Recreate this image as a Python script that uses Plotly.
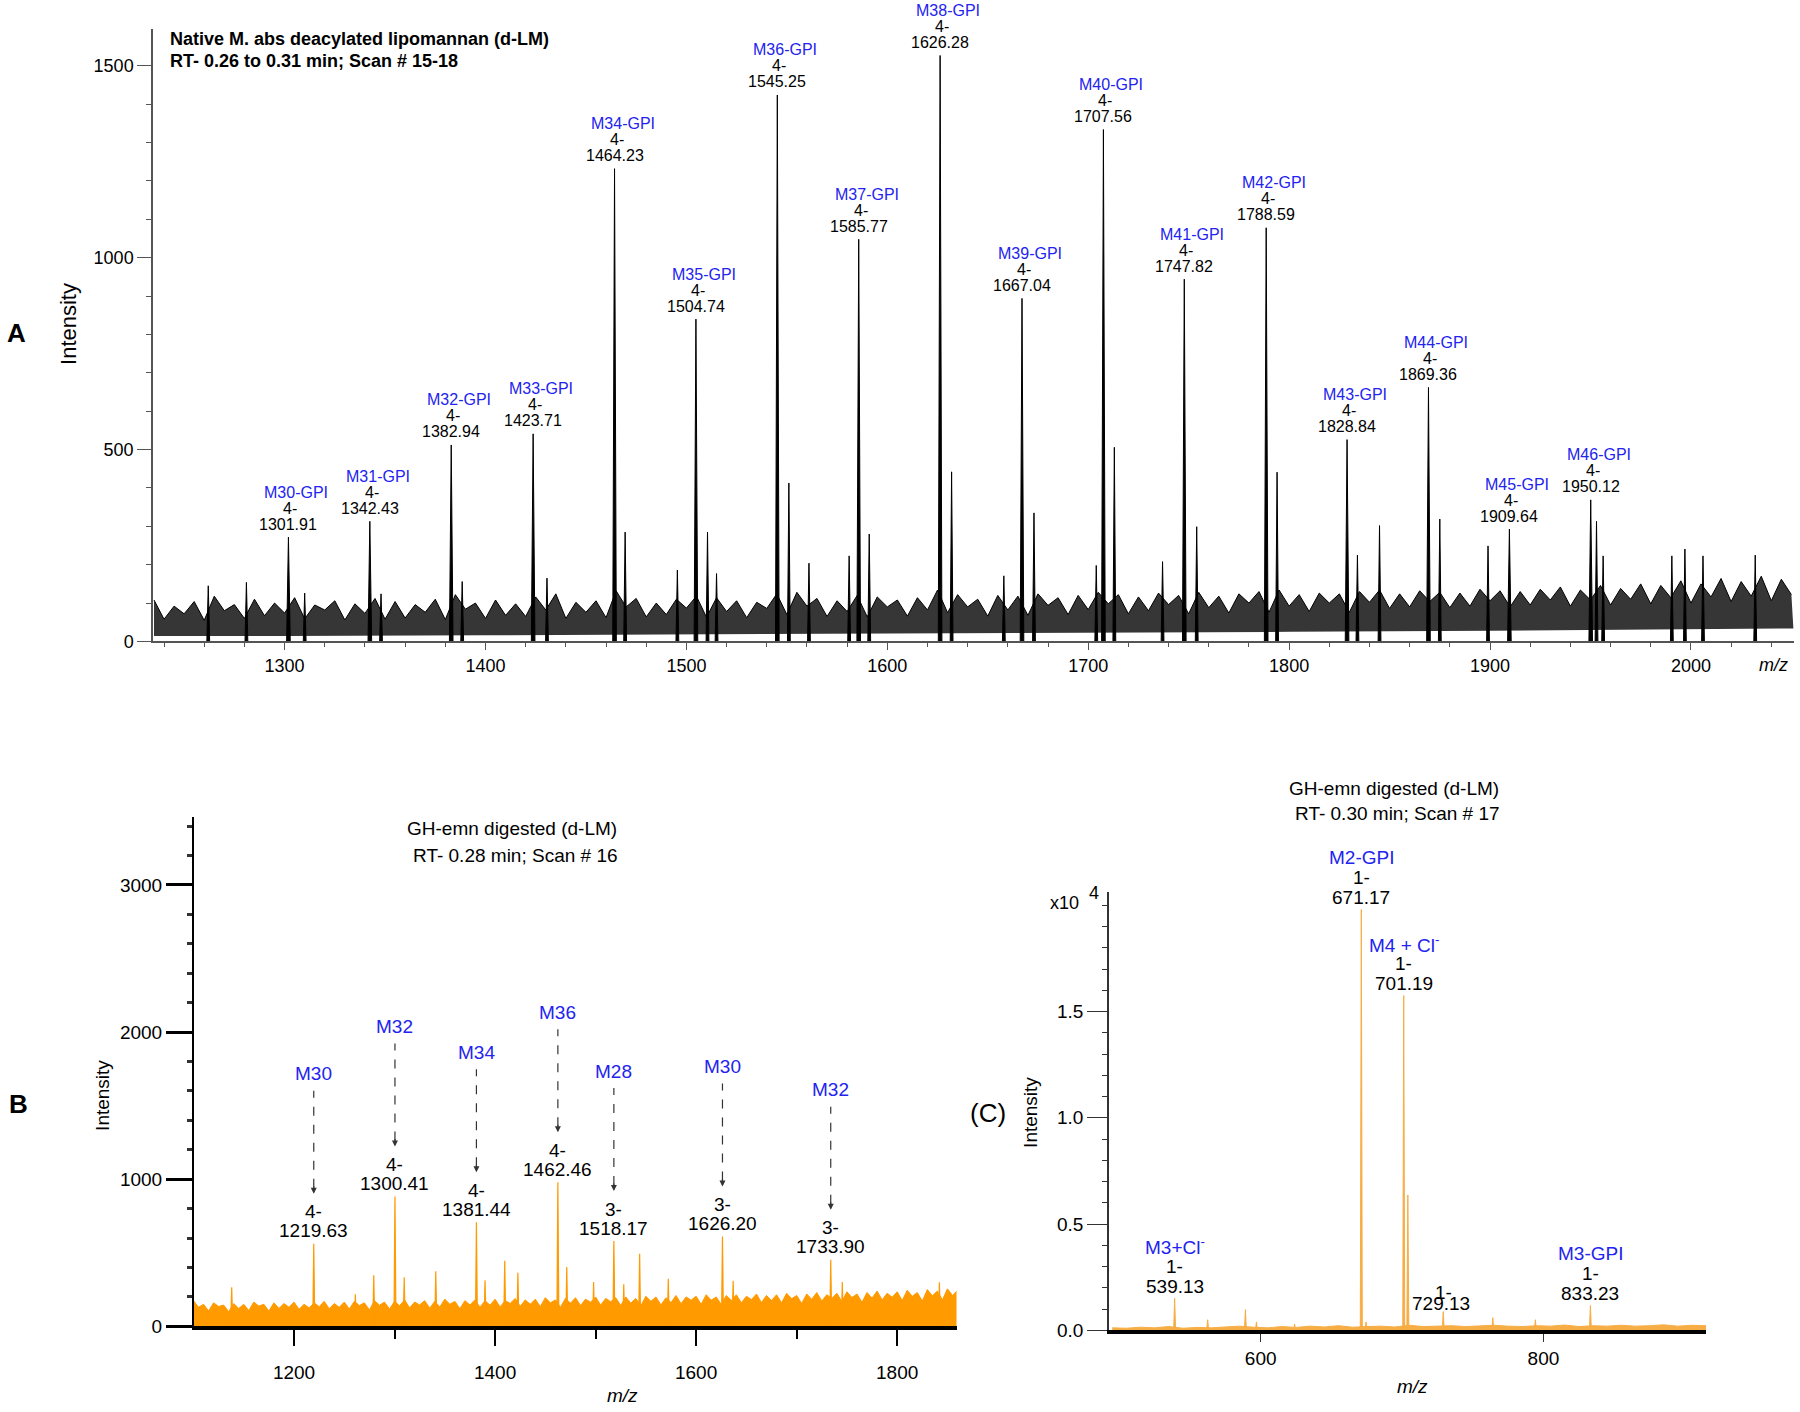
import plotly.graph_objects as go

W, H = 1800, 1412
# the captured page comes out slightly taller than the figure; compensate vertically
KY = 0.9923

# ---------------- Panel A data ----------------
a_mz = [1301.91, 1342.43, 1382.94, 1423.71, 1464.23, 1504.74, 1545.25, 1585.77, 1626.28,
        1667.04, 1707.56, 1747.82, 1788.59, 1828.84, 1869.36, 1909.64, 1950.12]
a_int = [272, 313, 512, 541, 1232, 840, 1424, 1048, 1527, 894, 1334, 944, 1078, 526, 662, 293, 369]
a_names = ["M30-GPI", "M31-GPI", "M32-GPI", "M33-GPI", "M34-GPI", "M35-GPI", "M36-GPI", "M37-GPI",
           "M38-GPI", "M39-GPI", "M40-GPI", "M41-GPI", "M42-GPI", "M43-GPI", "M44-GPI", "M45-GPI", "M46-GPI"]
a_charge = ["4-"] * 17
a_minor_mz = [1262, 1281, 1310, 1348, 1388.4, 1430.6, 1469.5, 1495.5, 1510.5, 1515, 1551, 1561, 1581,
              1591, 1632, 1658, 1673, 1704, 1713, 1737, 1754, 1794, 1834, 1845, 1875, 1899, 1953,
              1956.3, 1990.5, 1997, 2006, 2032]
a_minor_int = [145, 154, 126, 124, 156, 165, 285, 186, 285, 177, 413, 204, 223, 280, 442, 171, 335,
               198, 506, 208, 299, 441, 225, 302, 319, 249, 313, 223, 223, 241, 223, 225]
a_noise_mz = list(range(1235, 2050, 10))
a_noise_hi = [108, 92, 104, 118, 96, 110, 100, 114, 95, 106,
              98, 112, 104, 96, 110, 122, 100, 108, 98, 116,
              124, 102, 106, 132, 112, 100, 110, 118, 114, 106,
              102, 124, 128, 112, 106, 120, 116, 108, 114, 134,
              122, 110, 120, 118, 124, 114, 120, 128, 122, 116,
              126, 120, 128, 118, 124, 130, 134, 122, 126, 124,
              130, 134, 124, 132, 128, 126, 136, 132, 130, 136,
              142, 134, 146, 138, 150, 146, 158, 150, 164, 156,
              170, 162]
a_noise_valley = [58, 72, 55, 80, 60, 67, 74, 59, 82, 56,
                  73, 58, 61, 76, 57, 84, 60, 68, 65, 82,
                  60, 76, 62, 90, 64, 70, 87, 63, 78, 62,
                  86, 70, 92, 65, 78, 64, 90, 66, 82, 75,
                  90, 66, 82, 68, 94, 70, 83, 98, 72, 80,
                  96, 72, 88, 74, 100, 76, 92, 78, 100, 76,
                  102, 86, 90, 104, 88, 92, 106, 90, 95, 108,
                  92, 108, 95, 110, 98, 114, 100, 116, 104, 118,
                  106, 122]
a_noise_lo_mz = [1235, 1300, 1400, 1500, 1600, 1700, 1800, 1900, 2000, 2051]
a_noise_lo = [14, 14, 16, 18, 20, 22, 25, 28, 32, 34]

# ---------------- Panel B data ----------------
b_mz = [1219.63, 1300.41, 1381.44, 1462.46, 1518.17, 1626.20, 1733.90]
b_int = [561, 882, 707, 980, 580, 611, 452]
b_names = ["M30", "M32", "M34", "M36", "M28", "M30", "M32"]
b_charge = ["4-", "4-", "4-", "4-", "3-", "3-", "3-"]
b_minor_mz = [1138, 1261, 1279.3, 1309.6, 1341, 1390, 1409.6, 1422.7, 1471.3, 1498, 1528, 1543.8,
              1572.3, 1636.8, 1745.4, 1842]
b_minor_int = [265, 219, 347, 333, 374, 313, 446, 364, 403, 301, 287, 493, 323, 310, 301, 300]
b_noise_mz = list(range(1100, 1861, 10))
b_noise = [175, 150, 160, 145, 155, 150, 165, 150, 160, 155,
           165, 150, 160, 170, 155, 165, 170, 160, 175, 165,
           170, 180, 165, 175, 170, 185, 170, 175, 180, 175,
           185, 175, 190, 180, 185, 195, 180, 190, 195, 185,
           200, 190, 195, 200, 190, 205, 200, 195, 210, 200,
           205, 215, 200, 210, 215, 205, 220, 210, 215, 225,
           210, 220, 230, 215, 225, 235, 220, 230, 240, 225,
           235, 245, 230, 250, 240, 255, 245]
b_noise_valley = [130, 105, 135, 100, 122, 108, 138, 104, 122, 130,
                  116, 126, 134, 120, 130, 118, 142, 112, 144, 118,
                  140, 126, 146, 124, 132, 150, 120, 146, 130, 144,
                  132, 156, 136, 150, 134, 160, 130, 158, 142, 164,
                  144, 168, 142, 158, 140, 170, 146, 162, 154, 178,
                  150, 178, 148, 176, 160, 182, 162, 176, 160, 188,
                  156, 184, 172, 190, 168, 196, 164, 192, 180, 198,
                  176, 204, 172, 208, 180, 210, 184]

# ---------------- Panel C data (x10^4) ----------------
c_mz = [539.13, 671.17, 701.19, 729.13, 833.23]
c_int = [0.151, 1.98, 1.575, 0.088, 0.117]
c_names = ["M3+Cl<sup>-</sup>", "M2-GPI", "M4 + Cl<sup>-</sup>", "", "M3-GPI"]
c_charge = ["1-", "1-", "1-", "1-", "1-"]
c_minor_mz = [562.5, 589.2, 597, 624, 674.5, 704.1, 764.2, 794.3]
c_minor_int = [0.05, 0.098, 0.04, 0.03, 0.04, 0.637, 0.06, 0.05]
c_noise_mz = list(range(495, 916, 10))
c_noise = [0.012, 0.01, 0.015, 0.012, 0.018, 0.01, 0.014, 0.012, 0.016, 0.02,
           0.015, 0.012, 0.018, 0.014, 0.02, 0.016, 0.022, 0.015, 0.018, 0.02,
           0.016, 0.024, 0.018, 0.02, 0.022, 0.018, 0.02, 0.024, 0.02, 0.018,
           0.022, 0.02, 0.025, 0.018, 0.022, 0.02, 0.024, 0.02, 0.022, 0.026,
           0.02, 0.024, 0.022]
c_yticks = [0, 0.5, 1.0, 1.5]

BLUE = "#2323f0"
ORANGE = "#ff9a00"
LORANGE = "#f7ad45"
FONT = "Liberation Sans, Arial, sans-serif"


def px(x):
    return min(1.0, max(0.0, x / W))


def py(y):
    return min(1.0, max(0.0, 1 - (y / KY) / H))


def sticks(mzs, ints, hw):
    xs, ys = [], []
    for m, v in zip(mzs, ints):
        xs += [m - hw, m, m + hw, None]
        ys += [0, v, 0, None]
    return xs, ys


def zigzag(mzs, his, valleys, half):
    xs, ys = [], []
    for m, h, v in zip(mzs, his, valleys):
        xs += [m, m + half]
        ys += [h, v]
    return xs, ys


fig = go.Figure()

# ---- Panel A traces
fig.add_trace(go.Scatter(x=a_noise_lo_mz, y=a_noise_lo, mode="lines", line=dict(width=0, color="#333"),
                         xaxis="x", yaxis="y", hoverinfo="skip"))
zx, zy = zigzag(a_noise_mz, a_noise_hi, a_noise_valley, 5)
fig.add_trace(go.Scatter(x=zx, y=zy, mode="lines", fill="tonexty",
                         fillcolor="#363636", line=dict(width=1, color="black"),
                         xaxis="x", yaxis="y", hoverinfo="skip"))
xs, ys = sticks(a_minor_mz, a_minor_int, 0.7)
fig.add_trace(go.Scatter(x=xs, y=ys, mode="lines", fill="toself", fillcolor="black",
                         line=dict(width=1, color="black"), xaxis="x", yaxis="y"))
xs, ys = sticks(a_mz, a_int, 0.9)
fig.add_trace(go.Scatter(x=xs, y=ys, mode="lines", fill="toself", fillcolor="black",
                         line=dict(width=1, color="black"), xaxis="x", yaxis="y"))

# ---- Panel B traces
zx, zy = zigzag(b_noise_mz, b_noise, b_noise_valley, 5)
fig.add_trace(go.Scatter(x=zx, y=zy, mode="lines", fill="tozeroy", fillcolor=ORANGE,
                         line=dict(width=1, color=ORANGE), xaxis="x2", yaxis="y2"))
xs, ys = sticks(b_minor_mz + b_mz, b_minor_int + b_int, 1.0)
fig.add_trace(go.Scatter(x=xs, y=ys, mode="lines", fill="toself", fillcolor=ORANGE,
                         line=dict(width=1.2, color=ORANGE), xaxis="x2", yaxis="y2"))

# ---- Panel C traces
fig.add_trace(go.Scatter(x=c_noise_mz, y=c_noise, mode="lines", fill="tozeroy", fillcolor=LORANGE,
                         line=dict(width=1, color=LORANGE), xaxis="x3", yaxis="y3"))
xs, ys = sticks(c_minor_mz + c_mz, c_minor_int + c_int, 0.7)
fig.add_trace(go.Scatter(x=xs, y=ys, mode="lines", fill="toself", fillcolor=LORANGE,
                         line=dict(width=1, color=LORANGE), xaxis="x3", yaxis="y3"))

ann = []
shapes = []


def paper_text(x, y, text, size, anchor="center", angle=0):
    return dict(x=px(x), y=py(y), xref="paper", yref="paper", xanchor=anchor, yanchor="middle",
                showarrow=False, text=text, textangle=angle,
                font=dict(size=size, family=FONT, color="black"))


def data_text(x, y, xr, yr, text, size, color, yshift, xshift=0):
    return dict(x=x, y=y, xref=xr, yref=yr, text=text, showarrow=False, xanchor="center",
                yanchor="middle", yshift=yshift, xshift=xshift,
                font=dict(color=color, size=size, family=FONT))


# Panel A annotations
for m, v, nm, ch in zip(a_mz, a_int, a_names, a_charge):
    ann.append(data_text(m, v, "x", "y", nm, 16, BLUE, 45, 8))
    ann.append(data_text(m, v, "x", "y", ch, 16, "black", 29, 2))
    ann.append(data_text(m, v, "x", "y", f"{m:.2f}", 16, "black", 13))

ann.append(paper_text(168, 39, "<b>Native M. abs deacylated lipomannan (d-LM)</b>", 18, "left"))
ann.append(paper_text(168, 61, "<b>RT- 0.26 to 0.31 min; Scan # 15-18</b>", 18, "left"))
ann.append(paper_text(16, 333, "<b>A</b>", 26))
ann.append(paper_text(69, 324, "Intensity", 22, angle=-90))
ann.append(paper_text(1790, 665, "<i>m/z</i>", 18, "right"))

# Panel B annotations
for m, v, nm, ch in zip(b_mz, b_int, b_names, b_charge):
    ann.append(data_text(m, v, "x2", "y2", nm, 19, BLUE, 170))
    ann.append(data_text(m, v, "x2", "y2", ch, 19, "black", 32))
    ann.append(data_text(m, v, "x2", "y2", f"{m:.2f}", 19, "black", 13))
    shapes.append(dict(type="line", xref="x2", yref="y2", ysizemode="pixel", yanchor=v,
                       x0=m, x1=m, y0=56, y1=153, line=dict(color="#333", width=1.2, dash="dash")))
    ann.append(dict(x=m, y=v, xref="x2", yref="y2", text="", showarrow=True, ax=0, ay=-9,
                    yshift=50, arrowhead=2, arrowsize=1, arrowwidth=1.2, arrowcolor="#333"))

ann.append(paper_text(512, 829, "GH-emn digested (d-LM)", 19))
ann.append(paper_text(515, 856, "RT- 0.28 min; Scan # 16", 19))
ann.append(paper_text(18, 1104, "<b>B</b>", 26))
ann.append(paper_text(103, 1096, "Intensity", 19, angle=-90))
ann.append(paper_text(622, 1396, "<i>m/z</i>", 19))

# Panel C annotations
for m, v, nm, ch in zip(c_mz, c_int, c_names, c_charge):
    if nm:
        ann.append(data_text(m, v, "x3", "y3", nm, 19, BLUE, 52))
        ann.append(data_text(m, v, "x3", "y3", ch, 19, "black", 32))
        ann.append(data_text(m, v, "x3", "y3", f"{m:.2f}", 19, "black", 12))
    else:
        ann.append(data_text(m, v, "x3", "y3", ch, 19, "black", 19))
        ann.append(data_text(m, v, "x3", "y3", f"{m:.2f}", 19, "black", 8, -2))

ann.append(paper_text(1394, 789, "GH-emn digested (d-LM)", 19))
ann.append(paper_text(1397, 814, "RT- 0.30 min; Scan # 17", 19))
ann.append(paper_text(988, 1113, "(C)", 26))
ann.append(paper_text(1031, 1113, "Intensity", 19, angle=-90))
ann.append(paper_text(1064, 903, "x10", 18))
ann.append(paper_text(1094, 893, "4", 18))
ann.append(paper_text(1412, 1387, "<i>m/z</i>", 19))

tickfont_a = dict(size=18, family=FONT, color="black")
tickfont_b = dict(size=19, family=FONT, color="black")

fig.update_layout(
    width=W, height=H, margin=dict(l=0, r=0, t=0, b=0),
    paper_bgcolor="white", plot_bgcolor="white", showlegend=False,
    annotations=ann, shapes=shapes,
    xaxis=dict(domain=[px(153), px(1794)], range=[1234.5, 2051.3], anchor="y",
               showline=True, linecolor="#555", linewidth=1.5, showgrid=False, zeroline=False,
               ticks="outside", ticklen=7, tickcolor="#555", dtick=100, tick0=0,
               tickfont=tickfont_a, minor=dict(ticks="outside", ticklen=4, dtick=20, tickcolor="#555")),
    yaxis=dict(domain=[py(641.5), py(29)], range=[0, 1596], anchor="x",
               showline=True, linecolor="#555", linewidth=1.5, showgrid=False, zeroline=False,
               ticks="outside", ticklen=14, tickcolor="#555", dtick=500, tick0=0,
               tickfont=tickfont_a, minor=dict(ticks="outside", ticklen=5, dtick=100, tickcolor="#555")),
    xaxis2=dict(domain=[px(194), px(956.5)], range=[1100.5, 1859], anchor="y2",
                showline=True, linecolor="black", linewidth=4, showgrid=False, zeroline=False,
                ticks="outside", ticklen=16, tickwidth=2, tickcolor="black", dtick=200, tick0=0,
                ticklabelstandoff=10,
                tickfont=tickfont_b, minor=dict(ticks="outside", ticklen=9, dtick=100, tickcolor="black")),
    yaxis2=dict(domain=[py(1326.5), py(817)], range=[0, 3462], anchor="x2",
                showline=True, linecolor="black", linewidth=2, showgrid=False, zeroline=False,
                ticks="outside", ticklen=26, tickwidth=3, tickcolor="black", dtick=1000, tick0=0,
                tickfont=tickfont_b, minor=dict(ticks="outside", ticklen=5, dtick=200, tickcolor="#333")),
    xaxis3=dict(domain=[px(1109), px(1706)], range=[492.7, 915], anchor="y3",
                showline=True, linecolor="black", linewidth=4, showgrid=False, zeroline=False,
                ticks="outside", ticklen=8, tickcolor="#333", dtick=200, tick0=0,
                tickfont=tickfont_b),
    yaxis3=dict(domain=[py(1330.5), py(892)], range=[0, 2.063], anchor="x3",
                showline=True, linecolor="#333", linewidth=1.5, showgrid=False, zeroline=False,
                ticks="outside", ticklen=20, tickcolor="#333", tickmode="array",
                tickvals=c_yticks, ticktext=[f"{t:.1f}" for t in c_yticks],
                tickfont=tickfont_b, minor=dict(ticks="outside", ticklen=5, dtick=0.1, tickcolor="#333")),
)

fig.write_html("out.html", config={"displayModeBar": False},
               post_script="document.body.style.margin='0';document.body.style.overflow='hidden';"
                           "document.documentElement.style.overflow='hidden';")
